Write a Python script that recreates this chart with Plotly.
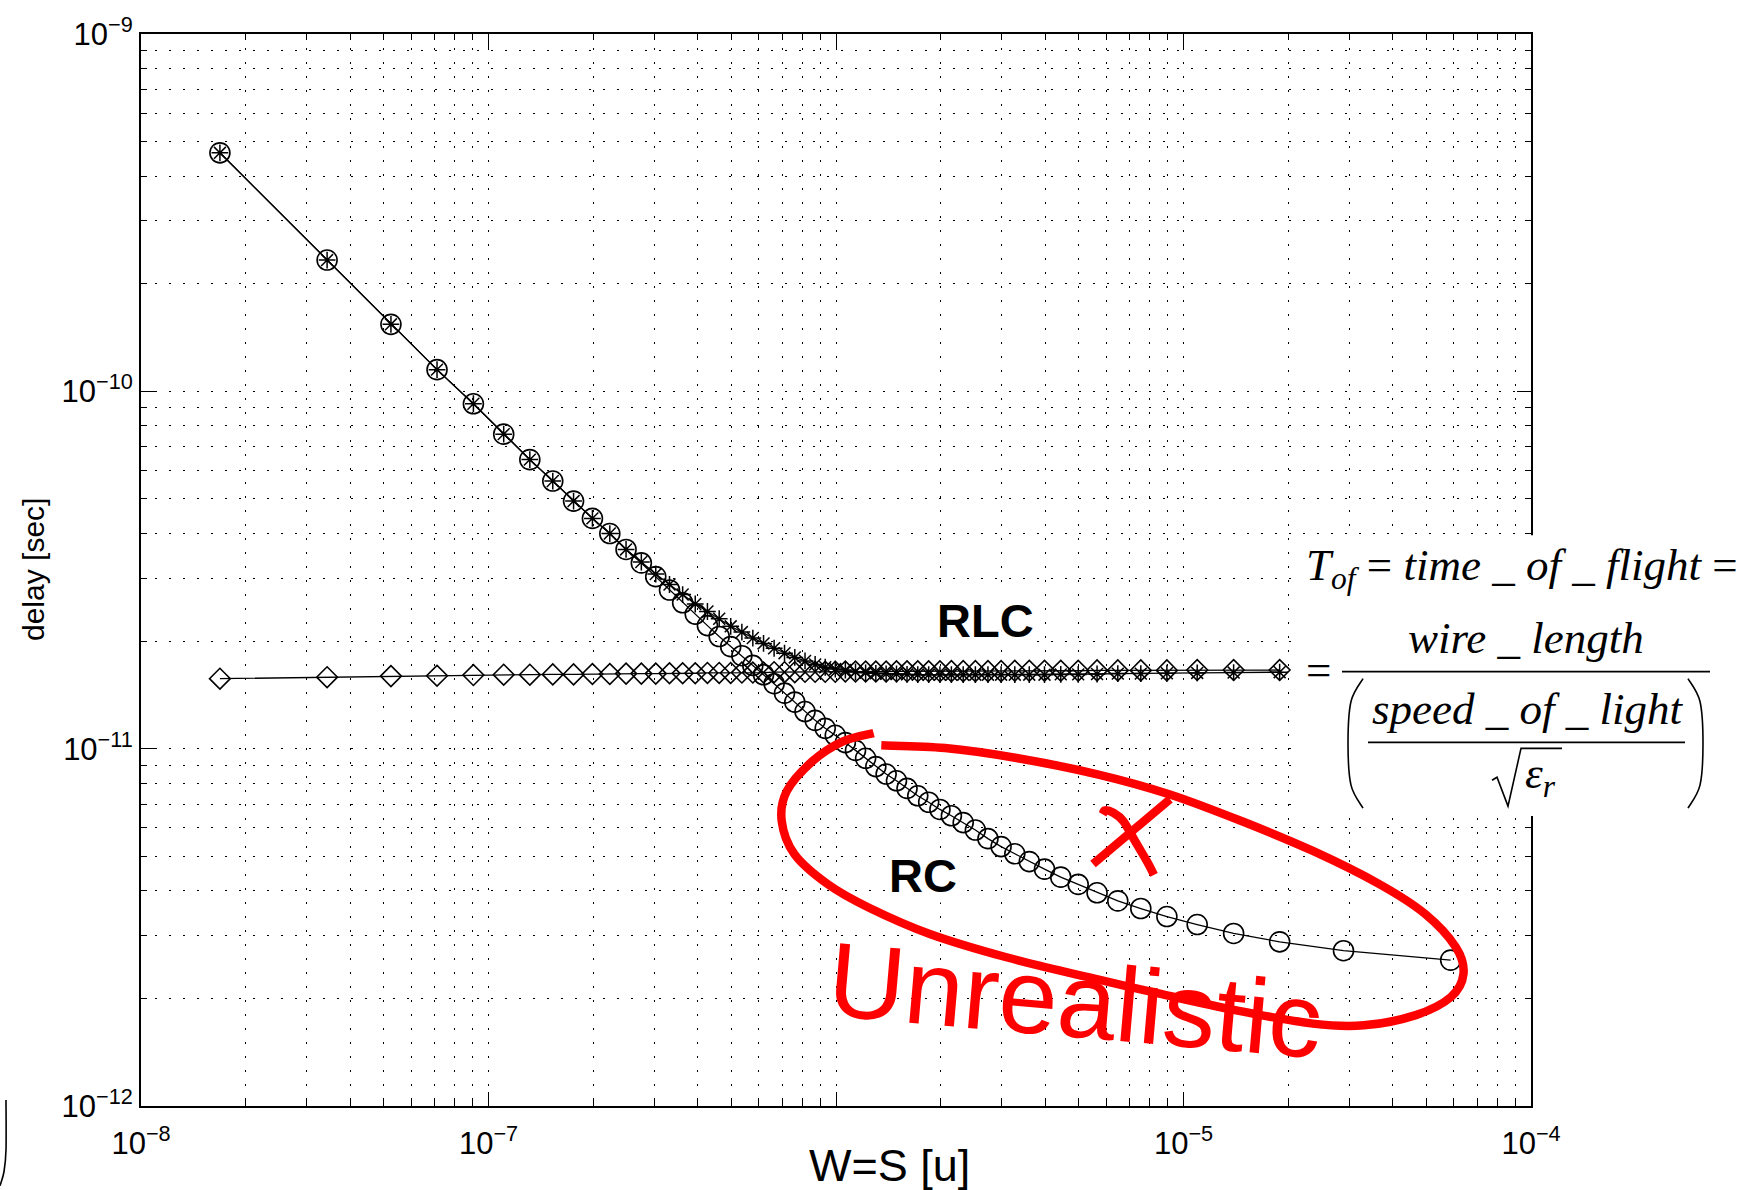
import plotly.graph_objects as go

# ---------------- data ----------------
w_s = [1.687e-8, 3.432e-8, 5.239e-8, 7.110e-8, 9.048e-8, 1.106e-7, 1.315e-7, 1.531e-7, 1.757e-7, 1.991e-7,
       2.234e-7, 2.488e-7, 2.753e-7, 3.029e-7, 3.318e-7, 3.620e-7, 3.935e-7, 4.266e-7, 4.612e-7, 4.977e-7,
       5.359e-7, 5.763e-7, 6.187e-7, 6.636e-7, 7.110e-7, 7.611e-7, 8.144e-7, 8.709e-7, 9.311e-7, 9.953e-7,
       1.064e-6, 1.138e-6, 1.217e-6, 1.302e-6, 1.394e-6, 1.493e-6, 1.601e-6, 1.719e-6, 1.848e-6, 1.991e-6,
       2.148e-6, 2.323e-6, 2.518e-6, 2.737e-6, 2.986e-6, 3.270e-6, 3.599e-6, 3.981e-6, 4.434e-6, 4.977e-6,
       5.640e-6, 6.470e-6, 7.536e-6, 8.958e-6, 1.095e-5, 1.394e-5, 1.891e-5, 2.887e-5, 5.872e-5]

rc_delay = [4.65e-10, 2.33e-10, 1.54e-10, 1.15e-10, 9.23e-11, 7.59e-11, 6.44e-11, 5.61e-11, 4.93e-11, 4.41e-11,
            4.00e-11, 3.61e-11, 3.31e-11, 3.03e-11, 2.78e-11, 2.56e-11, 2.38e-11, 2.21e-11, 2.06e-11, 1.93e-11,
            1.82e-11, 1.71e-11, 1.61e-11, 1.52e-11, 1.43e-11, 1.35e-11, 1.27e-11, 1.20e-11, 1.14e-11, 1.09e-11,
            1.04e-11, 9.89e-12, 9.40e-12, 8.91e-12, 8.49e-12, 8.13e-12, 7.74e-12, 7.38e-12, 7.08e-12, 6.76e-12,
            6.49e-12, 6.21e-12, 5.92e-12, 5.60e-12, 5.32e-12, 5.08e-12, 4.83e-12, 4.60e-12, 4.37e-12, 4.17e-12,
            3.95e-12, 3.75e-12, 3.57e-12, 3.39e-12, 3.22e-12, 3.04e-12, 2.88e-12, 2.72e-12, 2.56e-12]

rlc_delay = [4.65e-10, 2.33e-10, 1.54e-10, 1.15e-10, 9.23e-11, 7.59e-11, 6.44e-11, 5.61e-11, 4.93e-11, 4.41e-11,
             4.00e-11, 3.61e-11, 3.33e-11, 3.08e-11, 2.88e-11, 2.70e-11, 2.54e-11, 2.42e-11, 2.31e-11, 2.20e-11,
             2.12e-11, 2.04e-11, 1.97e-11, 1.91e-11, 1.85e-11, 1.80e-11, 1.76e-11, 1.72e-11, 1.69e-11, 1.67e-11,
             1.66e-11, 1.64e-11, 1.63e-11, 1.625e-11, 1.62e-11, 1.618e-11, 1.614e-11, 1.611e-11, 1.611e-11, 1.611e-11,
             1.611e-11, 1.611e-11, 1.611e-11, 1.611e-11, 1.611e-11, 1.611e-11, 1.611e-11, 1.611e-11, 1.614e-11, 1.614e-11,
             1.618e-11, 1.622e-11, 1.622e-11, 1.626e-11, 1.629e-11, 1.633e-11, 1.637e-11]

tof_delay = [1.570e-11, 1.585e-11, 1.596e-11, 1.600e-11, 1.607e-11, 1.611e-11, 1.611e-11, 1.614e-11, 1.614e-11, 1.618e-11,
             1.618e-11, 1.622e-11, 1.622e-11, 1.622e-11, 1.626e-11, 1.626e-11, 1.626e-11, 1.629e-11, 1.629e-11, 1.629e-11,
             1.633e-11, 1.633e-11, 1.633e-11, 1.637e-11, 1.637e-11, 1.637e-11, 1.641e-11, 1.641e-11, 1.641e-11, 1.641e-11,
             1.644e-11, 1.644e-11, 1.644e-11, 1.644e-11, 1.644e-11, 1.646e-11, 1.646e-11, 1.646e-11, 1.646e-11, 1.646e-11,
             1.648e-11, 1.648e-11, 1.648e-11, 1.648e-11, 1.648e-11, 1.652e-11, 1.652e-11, 1.652e-11, 1.652e-11, 1.652e-11,
             1.656e-11, 1.656e-11, 1.656e-11, 1.656e-11, 1.660e-11, 1.660e-11, 1.660e-11]

x_tick_vals = [1e-8, 1e-7, 1e-6, 1e-5, 1e-4]
x_tick_text = ["10<sup>−8</sup>", "10<sup>−7</sup>", "", "10<sup>−5</sup>", "10<sup>−4</sup>"]
y_tick_vals = [1e-12, 1e-11, 1e-10, 1e-9]
y_tick_text = ["10<sup>−12</sup>", "10<sup>−11</sup>", "10<sup>−10</sup>", "10<sup>−9</sup>"]

x_title = "W=S [u]"
y_title = "delay [sec]"
label_rlc = "RLC"
label_rc = "RC"
note_text = "Unrealistic"

# ---------------- geometry helpers ----------------
FIG_W, FIG_H = 1755, 1190
ML, MR, MT, MB = 141, 224, 30, 84
PW = FIG_W - ML - MR
PH = FIG_H - MT - MB


def px(x):
    return (x - ML) / PW


def py(y):
    return (FIG_H - MB - y) / PH


def smooth_path(pts):
    P = [(px(x), py(y)) for x, y in pts]
    d = "M%.5f,%.5f" % P[0]
    n = len(P)
    for i in range(n - 1):
        p0 = P[i - 1] if i > 0 else P[i]
        p1 = P[i]
        p2 = P[i + 1]
        p3 = P[i + 2] if i + 2 < n else P[i + 1]
        c1 = (p1[0] + (p2[0] - p0[0]) / 6, p1[1] + (p2[1] - p0[1]) / 6)
        c2 = (p2[0] - (p3[0] - p1[0]) / 6, p2[1] - (p3[1] - p1[1]) / 6)
        d += " C%.5f,%.5f %.5f,%.5f %.5f,%.5f" % (c1[0], c1[1], c2[0], c2[1], p2[0], p2[1])
    return d


def poly_path(pts):
    P = [(px(x), py(y)) for x, y in pts]
    return "M" + " L".join("%.5f,%.5f" % p for p in P)


# ---------------- figure ----------------
fig = go.Figure()

fig.add_trace(go.Scatter(
    x=w_s, y=rc_delay, mode="lines+markers", name="RC",
    line=dict(color="black", width=1.3),
    marker=dict(symbol="circle-open", size=20, color="black", line=dict(width=1.6, color="black")),
))
fig.add_trace(go.Scatter(
    x=w_s[:len(tof_delay)], y=tof_delay, mode="lines+markers", name="time of flight",
    line=dict(color="black", width=1.3),
    marker=dict(symbol="diamond-open", size=16, color="black", line=dict(width=1.6, color="black")),
))
fig.add_trace(go.Scatter(
    x=w_s[:len(rlc_delay)], y=rlc_delay, mode="lines+markers", name="RLC",
    line=dict(color="black", width=1.3),
    marker=dict(symbol="asterisk-open", size=14, color="black", line=dict(width=1.5, color="black")),
))

grid_dash = "1.6px,12.4px"
x_minor = [k * 10.0 ** e for e in range(-8, -4) for k in range(2, 10)]
y_minor = [k * 10.0 ** e for e in range(-12, -9) for k in range(2, 10)]

axis_common = dict(
    type="log", showline=True, linewidth=2, linecolor="black", mirror="ticks",
    ticks="inside", ticklen=14, tickwidth=1.3, tickcolor="black",
    showgrid=True, gridcolor="black", gridwidth=1.2, griddash=grid_dash,
    zeroline=False, tickfont=dict(family="Liberation Sans", size=31, color="black"),
)

fig.update_layout(
    width=FIG_W, height=FIG_H,
    margin=dict(l=ML, r=MR, t=MT, b=MB, pad=0),
    paper_bgcolor="white", plot_bgcolor="white",
    showlegend=False, hovermode=False,
    xaxis=dict(axis_common, range=[-8, -4], tickmode="array", tickvals=x_tick_vals, ticktext=x_tick_text,
               ticklabelstandoff=9,
               minor=dict(tickmode="array", tickvals=x_minor, ticks="inside", ticklen=6, tickcolor="black",
                          showgrid=True, gridcolor="black", gridwidth=1.2, griddash=grid_dash)),
    yaxis=dict(axis_common, range=[-12, -9], tickmode="array", tickvals=y_tick_vals, ticktext=y_tick_text,
               ticklabelstandoff=0,
               minor=dict(tickmode="array", tickvals=y_minor, ticks="inside", ticklen=6, tickcolor="black",
                          showgrid=True, gridcolor="black", gridwidth=1.2, griddash=grid_dash)),
)

shapes = []
# white box behind the time-of-flight formula
shapes.append(dict(type="rect", xref="paper", yref="paper", x0=px(1298), x1=px(1755), y0=py(815), y1=py(533),
                   fillcolor="white", line=dict(width=0), layer="above"))
# formula strokes
blk = dict(color="black", width=1.6)
shapes.append(dict(type="line", xref="paper", yref="paper", x0=px(1342), x1=px(1710), y0=py(670), y1=py(670), line=blk))
shapes.append(dict(type="line", xref="paper", yref="paper", x0=px(1368), x1=px(1685), y0=py(741), y1=py(741), line=blk))
shapes.append(dict(type="path", xref="paper", yref="paper",
                   path=smooth_path([(1363, 677), (1351, 700), (1348, 742), (1351, 784), (1363, 807)]), line=blk))
shapes.append(dict(type="path", xref="paper", yref="paper",
                   path=smooth_path([(1688, 677), (1700, 700), (1703, 742), (1700, 784), (1688, 807)]), line=blk))
shapes.append(dict(type="path", xref="paper", yref="paper",
                   path=poly_path([(1492, 779), (1497, 776), (1508, 805), (1521, 747), (1562, 747)]), line=blk))
# stray bracket at the lower-left corner
shapes.append(dict(type="path", xref="paper", yref="paper",
                   path=smooth_path([(6, 1100), (6, 1150), (4, 1172), (0, 1186)]), line=blk))

# red hand-drawn marks
red = dict(color="#ff0000", width=8.5)
loop_pts = [(873.6, 731.7), (843.0, 740), (812.4, 760), (786.8, 790), (781.7, 820), (794.5, 853.3),
            (827.7, 883.3), (868.5, 906.7), (929.8, 933.3), (1006.4, 956.7), (1088.2, 976.7),
            (1159.6, 993.3), (1236.3, 1010), (1312.9, 1023.3), (1363.9, 1025), (1415.0, 1015),
            (1450.8, 996.7), (1463.5, 973.3), (1455.9, 946.7), (1425.2, 913.3), (1379.3, 883.3),
            (1312.9, 850), (1241.4, 820), (1169.9, 793.3), (1098.4, 773.3), (1016.6, 756.7),
            (945.1, 746.7), (881.3, 744)]
shapes.append(dict(type="path", xref="paper", yref="paper", path=smooth_path(loop_pts), line=red))
shapes.append(dict(type="line", xref="paper", yref="paper", x0=px(1093), y0=py(863), x1=px(1170), y1=py(798), line=red))
shapes.append(dict(type="path", xref="paper", yref="paper",
                   path=smooth_path([(1102.7, 813.3), (1105, 809.3), (1113.3, 811.7), (1123.3, 820),
                                     (1135, 840), (1146.7, 860), (1154, 874)]), line=red))
fig.update_layout(shapes=shapes)

serif = "Liberation Serif"
sans = "Liberation Sans"
ann = []


def add_text(text, x, y, size, family=sans, color="black", angle=0, bg=None):
    d = dict(text=text, xref="paper", yref="paper", x=px(x), y=py(y), xanchor="center", yanchor="middle",
             showarrow=False, textangle=angle, font=dict(family=family, size=size, color=color))
    if bg:
        d.update(bgcolor=bg, borderpad=0)
    ann.append(d)


add_text("<b>%s</b>" % label_rlc, 985, 619, 47, bg="white")
add_text("<b>%s</b>" % label_rc, 923, 875, 47, bg="white")
add_text(x_title, 889, 1166, 45)
add_text(y_title, 33, 568, 30, angle=-90)
add_text(note_text, 1075, 1000, 106, color="#ff0000", angle=5)
add_text("<i>T</i><sub><i>of</i></sub> = <i>time</i> _ <i>of</i> _ <i>flight</i> =", 1522, 566, 45, family=serif)
add_text("=", 1318, 668, 45, family=serif)
add_text("<i>wire</i> _ <i>length</i>", 1526, 636, 45, family=serif)
add_text("<i>speed</i> _ <i>of</i> _ <i>light</i>", 1527, 708, 45, family=serif)
add_text("<i>ε</i><sub><i>r</i></sub>", 1540, 775, 45, family=serif)
fig.update_layout(annotations=ann)

fig.write_html("out.html")
